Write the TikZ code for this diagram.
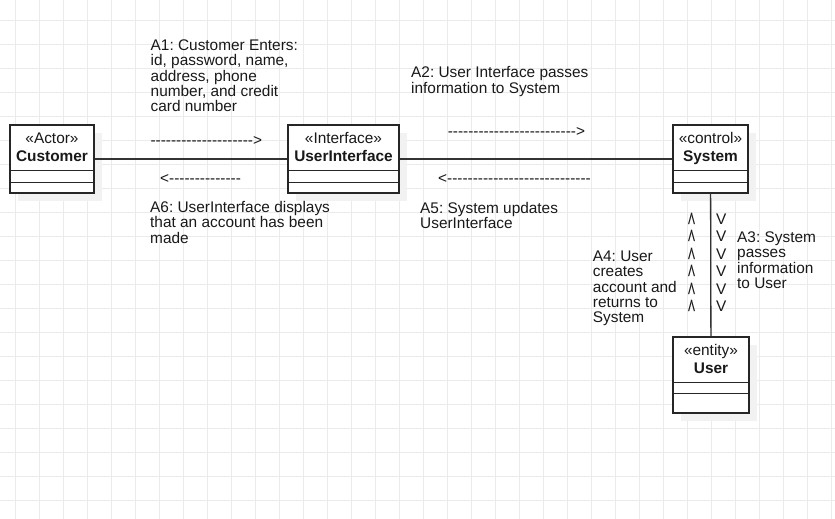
\documentclass[tikz,border=0pt]{standalone}
\usepackage{fontspec}
\setmainfont{Liberation Sans}[Ligatures=TeXOff]
\usetikzlibrary{shadows}
\frenchspacing
\tikzset{font=\fontsize{15.4}{15.25}\selectfont}

\begin{document}
\begin{tikzpicture}[x=1pt, y=-1pt]
	\tikzstyle{gridline}=[draw=black!8, line width=0.8pt]
	\tikzstyle{umlbox}=[draw=black!85, line width=1.3pt, fill=white, inner sep=0pt, drop shadow={shadow xshift=8pt, shadow yshift=-8pt, fill=black!5, opacity=1}]
	\tikzstyle{sep}=[draw=black!85, line width=1.3pt]
	\tikzstyle{link}=[draw=black!80, line width=1.3pt]
	\tikzstyle{head}=[text=black!90, inner sep=0pt, align=center, anchor=base, font=\fontsize{15.4}{18}\selectfont]
	\tikzstyle{note}=[text=black!90, inner sep=0pt, align=left, anchor=base west]
	\tikzstyle{marks}=[note, font=\fontsize{15.4}{17.4}\selectfont]

	% background and grid
	\fill[white] (0,0) rectangle (835,519);
	\useasboundingbox (0,0) rectangle (835,519);
	\foreach \gx in {0,...,34}
		\draw[gridline] (15+24*\gx,0) -- (15+24*\gx,519);
	\foreach \gy in {0,...,20}
		\draw[gridline] (0,20+24*\gy) -- (835,20+24*\gy);

	% classes
	\node[umlbox, minimum width=84pt, minimum height=68pt] (customer) at (52,159) {};
	\node[umlbox, minimum width=111pt, minimum height=68pt] (ui) at (343.5,159) {};
	\node[umlbox, minimum width=75pt, minimum height=68pt] (system) at (710.5,159) {};
	\node[umlbox, minimum width=76pt, minimum height=76pt] (user) at (711,375) {};

	% (base of a two-line node = its last line)
	\node[head] (customer-t) at (52,161.5) {«Actor»\\\textbf{Customer}};
	\node[head] (ui-t) at (343.5,161.5) {«Interface»\\\textbf{UserInterface}};
	\node[head] (system-t) at (710.5,161.5) {«control»\\\textbf{System}};
	\node[head] (user-t) at (711,373) {«entity»\\\textbf{User}};

	\draw[sep] ([yshift=-46pt]customer.north west) -- ([yshift=-46pt]customer.north east);
	\draw[sep] ([yshift=-58pt]customer.north west) -- ([yshift=-58pt]customer.north east);
	\draw[sep] ([yshift=-46pt]ui.north west) -- ([yshift=-46pt]ui.north east);
	\draw[sep] ([yshift=-58pt]ui.north west) -- ([yshift=-58pt]ui.north east);
	\draw[sep] ([yshift=-46pt]system.north west) -- ([yshift=-46pt]system.north east);
	\draw[sep] ([yshift=-58pt]system.north west) -- ([yshift=-58pt]system.north east);
	\draw[sep] ([yshift=-46pt]user.north west) -- ([yshift=-46pt]user.north east);
	\draw[sep] ([yshift=-57pt]user.north west) -- ([yshift=-57pt]user.north east);

	% associations
	\draw[link] (customer) -- (ui);
	\draw[link] (ui) -- (system);
	\draw[link] (system) -- (user);

	% messages
	\node[note] (a1) at (150.5,111.5) {A1: Customer Enters:\\id, password, name,\\address, phone\\number, and credit\\card number};
	\node[note] (a1-arrow) at (150.3,145) {-------------------->};
	\node[note] (a2) at (411,93) {A2: User Interface passes\\information to System};
	\node[note] (a2-arrow) at (447.6,136.5) {------------------------->};
	\node[note] (a3) at (737,288.3) {A3: System\\passes\\information\\to User};
	\node[marks] (a3-marks) at (716,311.5) {V\\V\\V\\V\\V\\V};
	\node[note] (a4) at (592.7,322.5) {A4: User\\creates\\account and\\returns to\\System};
	\node[marks] (a4-marks) at (688,311.5) {/\kern-1.6pt\textbackslash\\/\kern-1.6pt\textbackslash\\/\kern-1.6pt\textbackslash\\/\kern-1.6pt\textbackslash\\/\kern-1.6pt\textbackslash\\/\kern-1.6pt\textbackslash};
	\node[note] (a5) at (420,228.6) {A5: System updates\\UserInterface};
	\node[note] (a5-arrow) at (438,183) {<----------------------------};
	\node[note] (a6) at (150,243) {A6: UserInterface displays\\that an account has been\\made};
	\node[note] (a6-arrow) at (160,183) {<--------------};
\end{tikzpicture}
\end{document}
